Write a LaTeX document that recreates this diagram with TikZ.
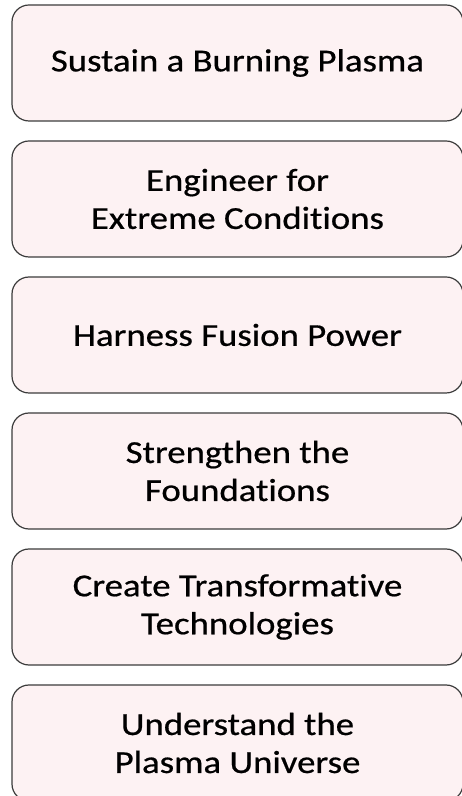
\documentclass[tikz,border=0pt]{standalone}
\usepackage{fontspec}
\setmainfont{Carlito}
\newfontfamily\goalfont[FakeStretch=1.15,FakeBold=0.6,Ligatures=NoCommon]{Carlito}
\usepackage{tikz}
\definecolor{goal_pink}{RGB}{253, 242, 243}
\definecolor{goal_line}{RGB}{60, 60, 60}
\tikzstyle{goal}=[rectangle,rounded corners=17pt,fill=goal_pink,draw=goal_line,
  line width=1.2pt,align=center,minimum width=451pt,minimum height=116pt,
  inner sep=0pt,font=\goalfont\fontsize{32}{38}\selectfont]
\tikzstyle{none}=[]

\begin{document}
\begin{tikzpicture}[x=1pt,y=1pt]
            \useasboundingbox (0, 0) rectangle (462, 796);
            \node [style=goal] (0) at (237.5, 733) {Sustain a Burning Plasma};
            \node [style=goal] (1) at (237.5, 597) {Engineer for\\Extreme Conditions};
            \node [style=goal] (2) at (237.5, 461) {Harness Fusion Power};
            \node [style=goal] (3) at (237.5, 325) {Strengthen the\\Foundations};
            \node [style=goal] (4) at (237.5, 189) {Create Transformative\\Technologies};
            \node [style=goal] (5) at (237.5, 53) {Understand the\\Plasma Universe};
    \end{tikzpicture}
\end{document}
